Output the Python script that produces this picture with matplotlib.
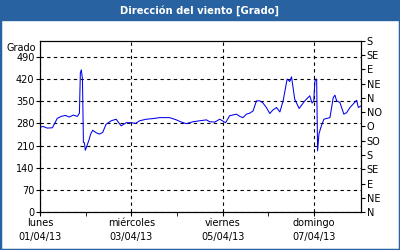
import datetime
import matplotlib
matplotlib.use('Agg')
import matplotlib.pyplot as plt
from matplotlib.patches import Rectangle

# hours since 01/04/13 00:00 and wind direction (degrees)
hours = [0, 1.7, 3.8, 6.5, 9.1, 11.2, 13.3, 15.4, 17.5, 19.6, 20.7, 21.2, 21.7, 22.3,
         22.8, 23.3, 23.8, 25.6, 26.6, 27.7, 29.6, 31.2, 32.9, 34.7, 37.4, 40.0, 42.6,
         45.3, 47.9, 50.2, 52.3, 55.8, 59.3, 62.8, 68.1, 71.6, 73.8, 76.8, 80.3, 83.8,
         87.4, 89.1, 91.8, 94.4, 97.5, 99.6, 103.2, 104.9, 106.6, 108.4, 110.1, 111.9,
         113.7, 115.4, 117.0, 118.9, 120.7, 122.3, 124.2, 126.0, 127.7, 129.8, 131.2,
         132.1, 133.8, 136.1, 139.1, 141.7, 142.9, 143.8, 144.4, 145.3, 145.8, 146.5,
         147.5, 149.1, 152.3, 154.0, 154.9, 155.8, 157.5, 159.6, 161.1, 162.8, 164.5,
         166.3, 167.2, 168.6]
grado = [268, 270, 265, 266, 296, 302, 305, 300, 306, 302, 312, 440, 449, 420,
         220, 219, 195, 225, 246, 258, 250, 246, 251, 277, 288, 293, 272,
         282, 282, 280, 288, 293, 295, 298, 298, 291, 285, 279, 285, 288,
         291, 285, 284, 293, 282, 304, 309, 302, 298, 309, 312, 319,
         351, 351, 345, 330, 311, 322, 330, 316, 351, 420, 412,
         427, 356, 327, 351, 367, 344, 351, 414, 420, 193, 246,
         267, 293, 298, 361, 369, 351, 346, 309, 314, 330, 341,
         353, 330, 335]

left_ticks = [0, 70, 140, 210, 280, 350, 420, 490]
compass = ['N', 'NE', 'E', 'SE', 'S', 'SO', 'O', 'NO', 'N', 'NE', 'E', 'SE', 'S']
day_labels = ['lunes\n01/04/13', 'miércoles\n03/04/13', 'viernes\n05/04/13', 'domingo\n07/04/13']

start = datetime.datetime(2013, 4, 1)
times = [start + datetime.timedelta(hours=h) for h in hours]

blue = '#2862a0'
fig = plt.figure(figsize=(4, 2.5), dpi=100, facecolor='white')
fig.patches.append(Rectangle((0, 0), 1, 1, transform=fig.transFigure, fill=False,
                             edgecolor=blue, linewidth=2.5))
fig.patches.append(Rectangle((0, 0.92), 1, 0.08, transform=fig.transFigure,
                             facecolor=blue, edgecolor=blue))
fig.text(0.5, 0.958, 'Dirección del viento [Grado]', color='white', fontsize=7.2,
         fontweight='bold', ha='center', va='center')

ax = fig.add_axes([0.1, 0.152, 0.8025, 0.684])
ax.plot(times, grado, color='#0000ee', linewidth=0.75)
ax.set_xlim(start, start + datetime.timedelta(hours=168.6))
ax.set_ylim(0, 540)

ax.set_yticks(left_ticks)
ax.tick_params(axis='both', labelsize=7, length=3, direction='out', pad=1)
major = [start + datetime.timedelta(days=d) for d in (0, 2, 4, 6)]
minor = [start + datetime.timedelta(days=d) for d in (1, 3, 5)]
ax.set_xticks(major)
ax.set_xticklabels(day_labels, linespacing=1.6)
ax.set_xticks(minor, minor=True)
ax.tick_params(axis='x', which='minor', length=3)
ax.grid(True, which='major', color='black', linestyle=(0, (3, 3)), linewidth=0.8)
ax.text(-0.012, 0.96, 'Grado', transform=ax.transAxes, fontsize=7, ha='right', va='center')

ax2 = ax.twinx()
ax2.set_ylim(0, 540)
ax2.set_yticks(range(0, 541, 45))
ax2.set_yticklabels(compass)
ax2.tick_params(axis='y', labelsize=7, length=3, pad=1)

for a in (ax, ax2):
    for s in a.spines.values():
        s.set_linewidth(0.8)

fig.savefig('out.png', dpi=100)
